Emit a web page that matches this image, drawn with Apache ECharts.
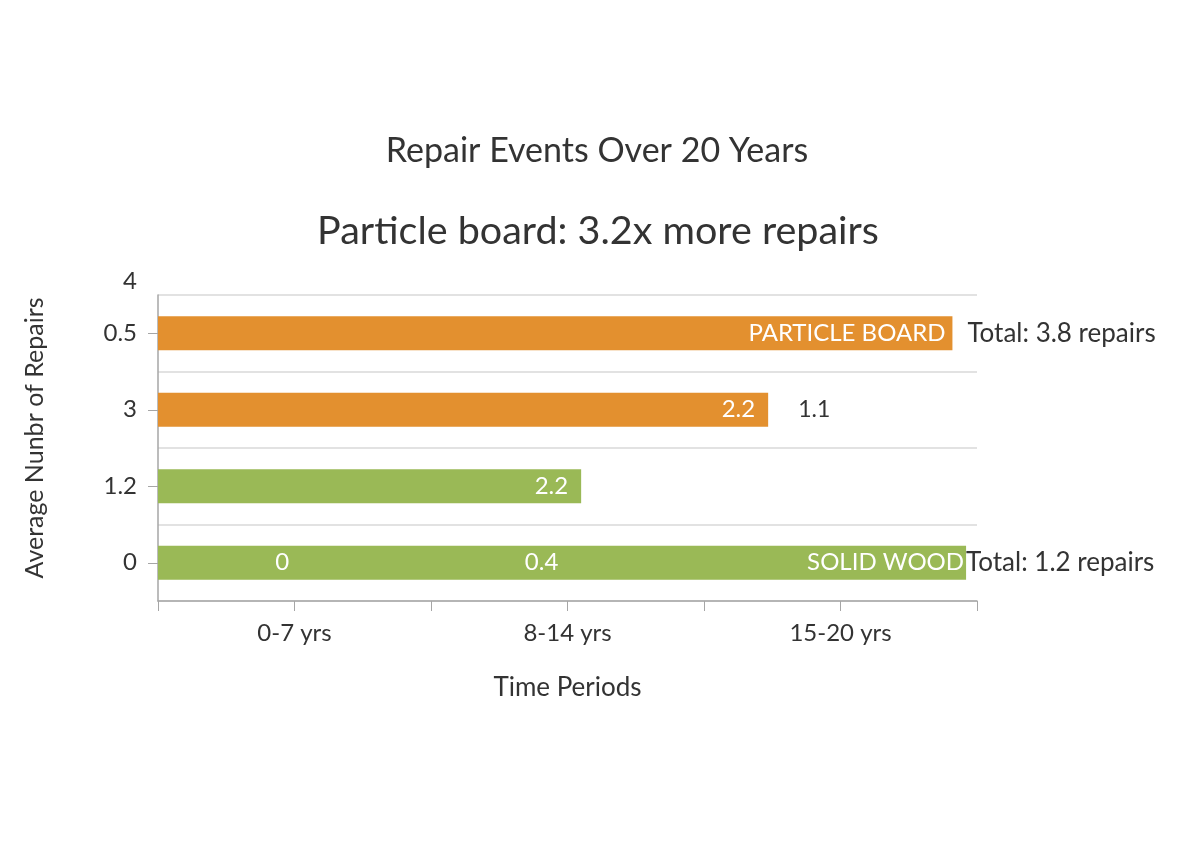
<!DOCTYPE html>
<html><head><meta charset="utf-8">
<script src="https://cdn.jsdelivr.net/npm/echarts@6/dist/echarts.min.js"></script>
<style>html,body{margin:0;padding:0;background:#fff}#c{width:1184px;height:864px}</style>
</head><body><div id="c"></div>
<script>
const titleText = 'Repair Events Over 20 Years';
const subtitleText = 'Particle board: 3.2x more repairs';
const yCategories = ['0', '1.2', '3', '0.5'];
const yTopTickLabel = '4';
const xTickLabels = ['', '0-7 yrs', '', '8-14 yrs', '', '15-20 yrs', ''];
const xAxisName = 'Time Periods';
const yAxisName = 'Average Nunbr of Repairs';
// bar lengths per row (bottom row first), in x-axis units
const barValues = [5.92, 3.10, 4.47, 5.82];
const barLabels = ['SOLID WOOD', '2.2', '2.2', 'PARTICLE BOARD'];
// labelled sub-segments inside the bottom bar
const subSegment1 = [1.82, 0, 0, 0];
const subSegment2 = [1.98, 0, 0, 0];
const sub1Labels = ['0', '', '', ''];
const sub2Labels = ['0.4', '', '', ''];
const endLabels = ['Total: 1.2 repairs', '', '1.1', 'Total: 3.8 repairs'];
const rowMaterial = ['wood', 'wood', 'particle', 'particle'];

const FONT = 'Lato';
const COLORS = { wood: '#9AB956', particle: '#E3902F' };
const TEXT = '#333333';
const insideLabel = { color: '#ffffff', fontFamily: FONT, fontSize: 24 };
const endDist = [0, 0, 30, 15];
const TRANSPARENT = 'rgba(0,0,0,0)';

function labelled(values, labels, extra) {
  return values.map((v, i) => ({
    value: v,
    label: labels[i] ? Object.assign({ show: true, formatter: labels[i] }, extra(i)) : { show: false }
  }));
}

const chart = echarts.init(document.getElementById('c'), null, { renderer: 'canvas' });

chart.setOption({
  backgroundColor: '#ffffff',
  animation: false,
  title: [
    { text: titleText, left: 597, top: 134, padding: 0, textAlign: 'center', textStyle: { fontFamily: FONT, fontSize: 34, fontWeight: 'normal', color: TEXT } },
    { text: subtitleText, left: 598, top: 211, padding: 0, textAlign: 'center', textStyle: { fontFamily: FONT, fontSize: 39.5, fontWeight: 'normal', color: TEXT } }
  ],
  grid: { left: 158, right: 207, top: 295, bottom: 263, containLabel: false },
  xAxis: {
    type: 'value', min: 0, max: 6, interval: 1,
    name: xAxisName, nameLocation: 'middle', nameGap: 74,
    nameTextStyle: { fontFamily: FONT, fontSize: 26, color: TEXT },
    axisLine: { show: true, lineStyle: { color: '#a6a6a6', width: 1.5 } },
    axisTick: { show: true, length: 10, lineStyle: { color: '#a6a6a6' } },
    splitLine: { show: false },
    axisLabel: { margin: 20, fontFamily: FONT, fontSize: 24, color: TEXT, formatter: v => xTickLabels[Math.round(v)] || '' }
  },
  yAxis: [{
    type: 'category', data: yCategories,
    name: yAxisName, nameLocation: 'middle', nameGap: 111, nameRotate: 90,
    nameTextStyle: { fontFamily: FONT, fontSize: 25, color: TEXT, padding: [0, 0, 0, 20] },
    axisLine: { show: true, lineStyle: { color: '#a6a6a6', width: 1.5 } },
    axisTick: { show: true, alignWithLabel: true, length: 10, lineStyle: { color: '#a6a6a6' } },
    splitLine: { show: true, lineStyle: { color: '#d9d9d9', width: 1.5 } },
    axisLabel: { margin: 21, fontFamily: FONT, fontSize: 24, color: TEXT }
  }, {
    type: 'category', data: yCategories, position: 'left',
    name: yTopTickLabel, nameLocation: 'end', nameGap: 2,
    nameTextStyle: { fontFamily: FONT, fontSize: 24, color: TEXT, align: 'right', padding: [0, 21, 0, 0] },
    axisLine: { show: false }, axisTick: { show: false }, axisLabel: { show: false }, splitLine: { show: false }
  }],
  series: [
    {
      type: 'bar', stack: 'row', barWidth: 34, barGap: '-100%',
      label: insideLabel,
      data: barValues.map((v, i) => ({
        value: v,
        itemStyle: { color: COLORS[rowMaterial[i]] },
        label: { show: true, formatter: barLabels[i], position: 'insideRight', distance: i === 0 ? 2 : (i === 3 ? 7 : 13) }
      }))
    },
    {
      type: 'bar', stack: 'row', barWidth: 34, barGap: '-100%',
      itemStyle: { color: TRANSPARENT },
      label: { color: TEXT, fontFamily: FONT, fontSize: 26 },
      data: labelled(endLabels.map(() => 0), endLabels, i => ({ position: 'right', distance: endDist[i], fontSize: i === 2 ? 23 : 26 }))
    },
    {
      type: 'bar', stack: 'sub', barWidth: 34, barGap: '-100%',
      itemStyle: { color: TRANSPARENT },
      label: insideLabel,
      data: labelled(subSegment1, sub1Labels, () => ({ position: 'inside' }))
    },
    {
      type: 'bar', stack: 'sub', barWidth: 34, barGap: '-100%',
      itemStyle: { color: TRANSPARENT },
      label: insideLabel,
      data: labelled(subSegment2, sub2Labels, () => ({ position: 'inside' }))
    }
  ]
});
</script>
</body></html>
